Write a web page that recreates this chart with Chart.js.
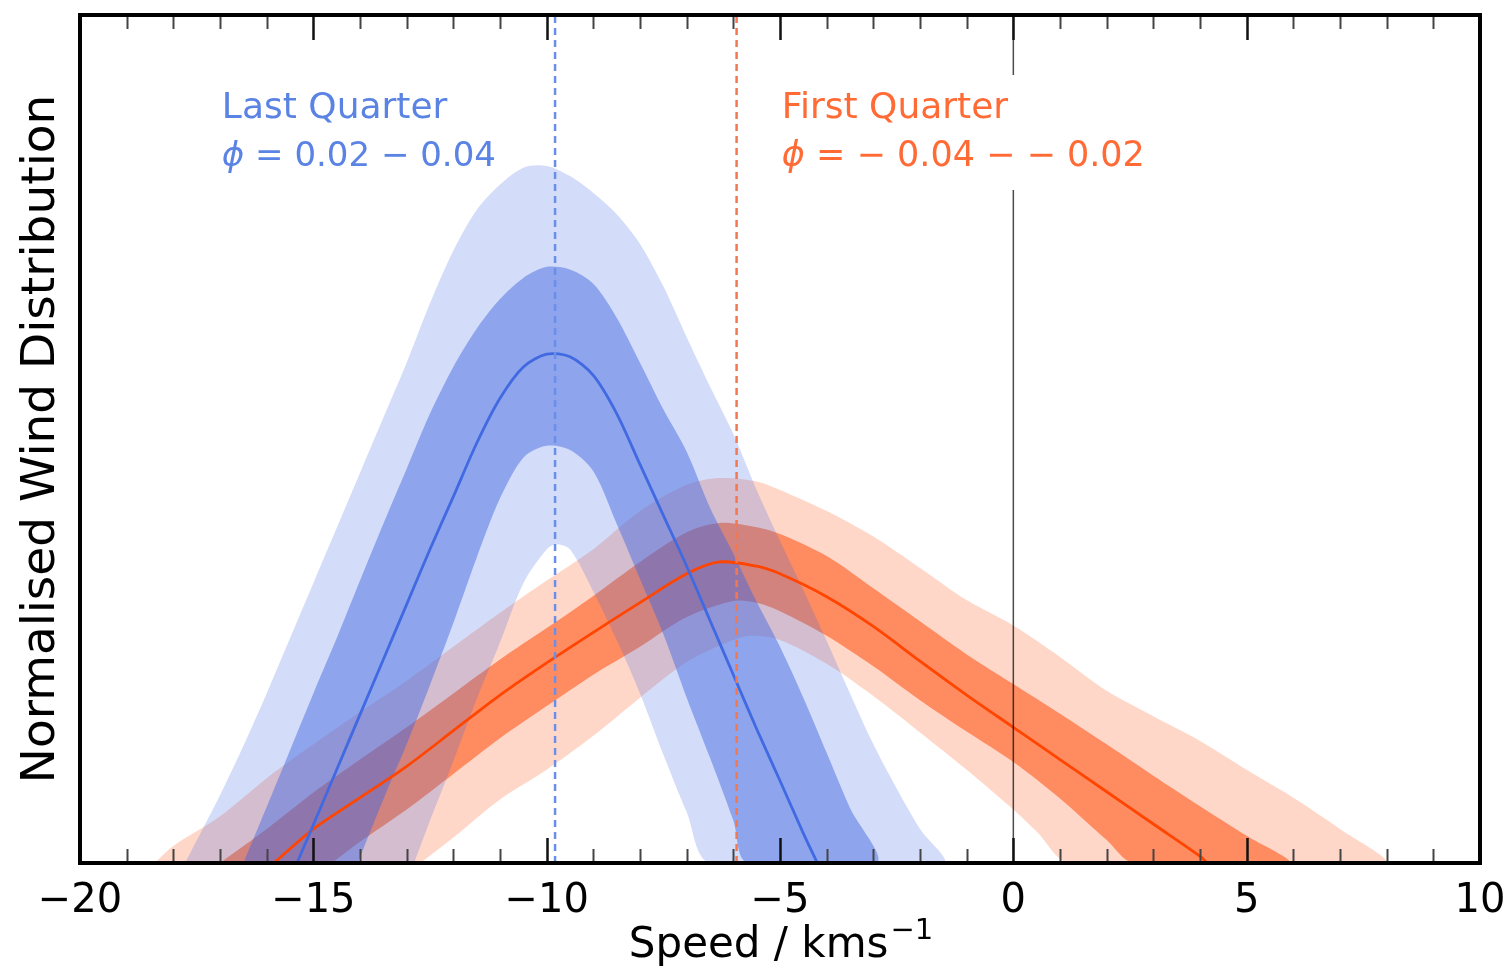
<!DOCTYPE html>
<html>
<head>
<meta charset="utf-8">
<script src="https://cdn.jsdelivr.net/npm/chart.js@4.4.1/dist/chart.umd.min.js"></script>
<style>
  html, body { margin: 0; padding: 0; background: #fff; }
  #wrap { width: 1508px; height: 972px; }
</style>
</head>
<body>
<div id="wrap"><canvas id="windChart" width="1508" height="972"></canvas></div>
<script>
const FONT = "'DejaVu Sans', sans-serif";

// speed axis
const xMin = -20;
const xMax = 10;
const xStep = 5;

// Last Quarter (blue): median line, 1 sigma band, 2 sigma band
const blueMidX = [-15.35, -15, -14.5, -14, -13.5, -13, -12.5, -12, -11.5, -11, -10.5, -10, -9.5, -9, -8.5, -8, -7.5, -7, -6.5, -6, -5.5, -5, -4.5, -4.2];
const blueMidY = [0, 0.045, 0.11, 0.175, 0.24, 0.305, 0.37, 0.432, 0.495, 0.548, 0.585, 0.6, 0.597, 0.575, 0.53, 0.47, 0.41, 0.35, 0.286, 0.222, 0.158, 0.097, 0.035, 0];

const blueHi1X = [-16.5, -16, -15.5, -15, -14.5, -14, -13.5, -13, -12.5, -12, -11.5, -11, -10.5, -10, -9.5, -9, -8.5, -8, -7.5, -7, -6.5, -6, -5.5, -5, -4.5, -4, -3.5, -2.93];
const blueHi1Y = [0, 0.066, 0.133, 0.2, 0.265, 0.333, 0.4, 0.465, 0.53, 0.585, 0.63, 0.665, 0.69, 0.703, 0.7, 0.683, 0.643, 0.59, 0.535, 0.485, 0.419, 0.365, 0.308, 0.255, 0.195, 0.13, 0.065, 0];
const blueLo1X = [-14.05, -13.5, -13, -12.5, -12, -11.5, -11, -10.5, -10, -9.5, -9, -8.5, -8, -7.5, -7, -6.5, -6, -5.7];
const blueLo1Y = [0, 0.075, 0.14, 0.21, 0.283, 0.36, 0.43, 0.478, 0.492, 0.487, 0.462, 0.4, 0.335, 0.27, 0.195, 0.124, 0.05, 0];

const blueHi2X = [-17.75, -17, -16.5, -16, -15.5, -15, -14.5, -14, -13.5, -13, -12.5, -12, -11.5, -11, -10.5, -10, -9.5, -9, -8.5, -8, -7.5, -7, -6.5, -6, -5.5, -5, -4.5, -4, -3.5, -3, -2.5, -2, -1.5];
const blueHi2Y = [0, 0.08, 0.138, 0.2, 0.265, 0.33, 0.395, 0.46, 0.525, 0.59, 0.66, 0.722, 0.77, 0.8, 0.82, 0.822, 0.81, 0.79, 0.765, 0.73, 0.68, 0.62, 0.562, 0.506, 0.44, 0.38, 0.322, 0.262, 0.2, 0.14, 0.088, 0.04, 0];
const blueLo2X = [-12.84, -12.5, -12, -11.5, -11, -10.5, -10, -9.8, -9.5, -9, -8.5, -8, -7.5, -7, -6.5];
const blueLo2Y = [0, 0.05, 0.12, 0.193, 0.26, 0.33, 0.37, 0.376, 0.37, 0.32, 0.263, 0.2, 0.128, 0.06, 0];

// First Quarter (orange)
const orangeMidX = [-15.85, -15, -14, -13, -12, -11, -10, -9, -8, -7, -6.3, -5.5, -5, -4, -3, -2, -1, 0, 1, 2, 3, 4, 4.15];
const orangeMidY = [0, 0.04, 0.077, 0.114, 0.156, 0.198, 0.236, 0.272, 0.307, 0.341, 0.355, 0.35, 0.341, 0.314, 0.279, 0.238, 0.198, 0.16, 0.122, 0.084, 0.046, 0.008, 0];

const orangeHi1X = [-17, -16, -15, -14, -13, -12, -11, -10, -9, -8, -7, -6.3, -5.5, -5, -4, -3, -2, -1, 0, 1, 2, 3, 4, 5, 5.9];
const orangeHi1Y = [0, 0.04, 0.083, 0.122, 0.16, 0.2, 0.24, 0.277, 0.315, 0.355, 0.39, 0.401, 0.396, 0.388, 0.362, 0.324, 0.285, 0.246, 0.211, 0.176, 0.14, 0.103, 0.067, 0.032, 0];
const orangeLo1X = [-14.6, -14, -13, -12, -11, -10, -9, -8, -7, -6, -5.5, -5, -4, -3, -2, -1, 0, 1, 2, 2.57];
const orangeLo1Y = [0, 0.025, 0.063, 0.105, 0.147, 0.185, 0.222, 0.255, 0.29, 0.309, 0.307, 0.297, 0.268, 0.232, 0.192, 0.155, 0.119, 0.076, 0.027, 0];

const orangeHi2X = [-18.4, -18, -17, -16, -15, -14, -13, -12, -11, -10, -9, -8, -7, -6.3, -5.5, -5, -4, -3, -2, -1, 0, 1, 2, 3, 4, 5, 6, 7, 7.95];
const orangeHi2Y = [0, 0.02, 0.055, 0.1, 0.14, 0.178, 0.215, 0.255, 0.295, 0.333, 0.37, 0.415, 0.446, 0.454, 0.45, 0.44, 0.415, 0.385, 0.348, 0.31, 0.28, 0.243, 0.203, 0.173, 0.144, 0.11, 0.077, 0.04, 0];
const orangeLo2X = [-12.7, -12, -11, -10, -9, -8, -7, -6, -5.6, -5, -4, -3, -2, -1, 0, 0.5, 1.2];
const orangeLo2Y = [0, 0.03, 0.075, 0.11, 0.15, 0.195, 0.237, 0.263, 0.268, 0.263, 0.235, 0.197, 0.154, 0.11, 0.063, 0.037, 0];

// vertical markers
const blueMedian = -9.82;
const orangeMedian = -5.93;
const zeroSpeed = 0;

// texts
const blueTitle = "Last Quarter";
const bluePhase = [["\u03D5", true], [" = 0.02 \u2212 0.04", false]];
const orangeTitle = "First Quarter";
const orangePhase = [["\u03D5", true], [" = \u2212 0.04 \u2212 \u2212 0.02", false]];
const xTitle = "Speed / kms";
const xTitleSup = "\u22121";
const yTitle = "Normalised Wind Distribution";

function pts(xs, ys) {
  return xs.map((x, i) => ({ x: x, y: ys[i] }));
}
function band(hx, hy, lx, ly) {
  return pts(hx, hy).concat(pts(lx, ly).reverse());
}
function vline(x) {
  return [{ x: x, y: 0 }, { x: x, y: 1 }];
}

const framePlugin = {
  id: "frame",
  afterDatasetsDraw(chart) {
    const c = chart.ctx;
    const a = chart.chartArea;
    const sx = chart.scales.x;
    c.save();
    // white box behind the orange label (text bbox)
    const bx = sx.getPixelForValue(-5.1);
    c.fillStyle = "#fff";
    c.fillRect(bx, 75, 375, 115);

    function drawLabel(x, title, phase, color, size) {
      c.fillStyle = color;
      c.textBaseline = "alphabetic";
      c.textAlign = "left";
      c.font = "36px " + FONT;
      c.fillText(title, x, 118);
      let px = x;
      phase.forEach(([t, it]) => {
        c.font = (it ? "italic " : "") + size + "px " + FONT;
        c.fillText(t, px, 166);
        px += c.measureText(t).width;
      });
    }
    drawLabel(sx.getPixelForValue(-16.96), blueTitle, bluePhase, "#5b83e4", 34);
    drawLabel(sx.getPixelForValue(-4.96), orangeTitle, orangePhase, "#ff6a35", 35);

    // inward ticks, top and bottom
    for (let v = xMin + 1; v < xMax; v++) {
      const px = Math.round(sx.getPixelForValue(v)) + 0.5;
      const major = v % xStep === 0;
      const len = major ? 25 : 14;
      c.strokeStyle = major ? "#111" : "#444";
      c.lineWidth = major ? 2.5 : 2;
      c.beginPath();
      c.moveTo(px, a.bottom);
      c.lineTo(px, a.bottom - len);
      c.moveTo(px, a.top);
      c.lineTo(px, a.top + len);
      c.stroke();
    }
    // frame
    c.strokeStyle = "#000";
    c.lineWidth = 4;
    c.strokeRect(a.left, a.top, a.right - a.left, a.bottom - a.top);

    // x axis title with superscript
    c.fillStyle = "#000";
    c.textBaseline = "alphabetic";
    c.textAlign = "left";
    c.font = "42px " + FONT;
    const w1 = c.measureText(xTitle).width;
    c.font = "29px " + FONT;
    const w2 = c.measureText(xTitleSup).width;
    const tx = (a.left + a.right) / 2 - (w1 + w2) / 2;
    c.font = "42px " + FONT;
    c.fillText(xTitle, tx, 957);
    c.font = "29px " + FONT;
    c.fillText(xTitleSup, tx + w1 + 2, 939);
    c.restore();
  }
};

const ctx = document.getElementById("windChart").getContext("2d");
const windChart = new Chart(ctx, {
  type: "line",
  data: {
    datasets: [
      {
        data: vline(blueMedian),
        borderColor: "#6a8fea",
        borderWidth: 2.5,
        borderDash: [7, 5],
        tension: 0,
        order: 0,
      },
      {
        data: vline(orangeMedian),
        borderColor: "#f4784f",
        borderWidth: 2.5,
        borderDash: [7, 5],
        tension: 0,
        order: 0,
      },
      {
        data: vline(zeroSpeed),
        borderColor: "rgba(0,0,0,0.7)",
        borderWidth: 1.5,
        tension: 0,
        order: 0,
      },
      {
        data: pts(blueMidX, blueMidY),
        borderColor: "#4169e1",
        borderWidth: 2.8,
        order: 1,
      },
      {
        data: pts(orangeMidX, orangeMidY),
        borderColor: "#ff4500",
        borderWidth: 2.8,
        order: 2,
      },
      {
        data: band(blueHi1X, blueHi1Y, blueLo1X, blueLo1Y),
        borderWidth: 0,
        borderColor: "rgba(0,0,0,0)",
        backgroundColor: "rgba(65,105,225,0.47)",
        fill: "shape",
        order: 3,
      },
      {
        data: band(blueHi2X, blueHi2Y, blueLo2X, blueLo2Y),
        borderWidth: 0,
        borderColor: "rgba(0,0,0,0)",
        backgroundColor: "rgba(65,105,225,0.23)",
        fill: "shape",
        order: 4,
      },
      {
        data: band(orangeHi1X, orangeHi1Y, orangeLo1X, orangeLo1Y),
        borderWidth: 0,
        borderColor: "rgba(0,0,0,0)",
        backgroundColor: "rgba(255,69,0,0.52)",
        fill: "shape",
        order: 5,
      },
      {
        data: band(orangeHi2X, orangeHi2Y, orangeLo2X, orangeLo2Y),
        borderWidth: 0,
        borderColor: "rgba(0,0,0,0)",
        backgroundColor: "rgba(255,69,0,0.215)",
        fill: "shape",
        order: 6,
      },
    ],
  },
  options: {
    responsive: false,
    animation: false,
    layout: { padding: { left: 0, top: 15, right: 28, bottom: 0 } },
    plugins: { legend: { display: false }, tooltip: { enabled: false } },
    elements: { point: { radius: 0 }, line: { tension: 0.3 } },
    scales: {
      x: {
        type: "linear",
        min: xMin,
        max: xMax,
        grid: { display: false },
        border: { display: false },
        ticks: {
          stepSize: xStep,
          padding: 7,
          color: "#000",
          maxRotation: 0,
          autoSkip: false,
          font: { family: FONT, size: 40 },
          callback: (v) => (v < 0 ? "\u2212" + Math.abs(v) : String(v)),
        },
        title: { display: false },
        afterFit: (s) => {
          s.height = 109;
          s.paddingLeft = 0;
          s.paddingRight = 0;
        },
      },
      y: {
        type: "linear",
        min: 0,
        max: 1,
        grid: { display: false },
        border: { display: false },
        ticks: { display: false },
        title: {
          display: true,
          text: yTitle,
          color: "#000",
          font: { family: FONT, size: 47 },
          padding: { top: 14, bottom: 0 },
        },
        afterFit: (s) => { s.width = 80; },
      },
    },
  },
  plugins: [framePlugin],
});
</script>
</body>
</html>
